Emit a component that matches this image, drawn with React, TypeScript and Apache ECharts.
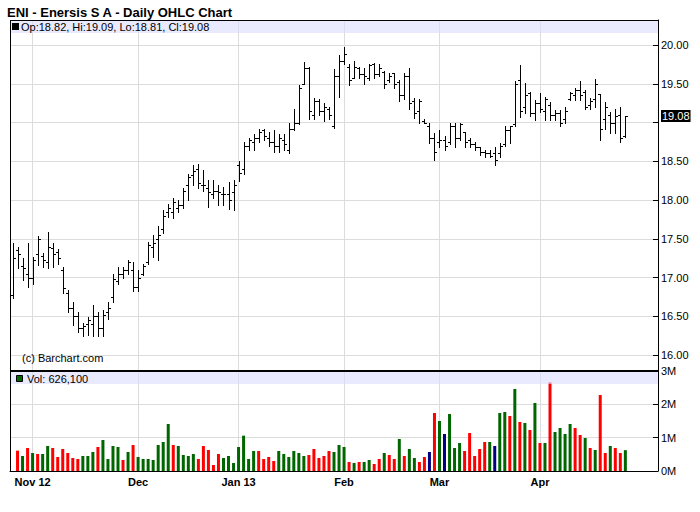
import React, { useEffect, useRef } from "react";
import * as echarts from "echarts";

const FONT = "'Liberation Sans', Arial, Helvetica, sans-serif";

const dates = [
  "10/24/12", "10/25/12", "10/26/12", "10/31/12",
  "11/01/12", "11/02/12", "11/05/12", "11/06/12", "11/07/12", "11/08/12", "11/09/12", "11/12/12", "11/13/12", "11/14/12", "11/15/12", "11/16/12", "11/19/12", "11/20/12", "11/21/12", "11/23/12", "11/26/12", "11/27/12", "11/28/12", "11/29/12", "11/30/12",
  "12/03/12", "12/04/12", "12/05/12", "12/06/12", "12/07/12", "12/10/12", "12/11/12", "12/12/12", "12/13/12", "12/14/12", "12/17/12", "12/18/12", "12/19/12", "12/20/12", "12/21/12", "12/24/12", "12/26/12", "12/27/12", "12/28/12", "12/31/12",
  "01/02/13", "01/03/13", "01/04/13", "01/07/13", "01/08/13", "01/09/13", "01/10/13", "01/11/13", "01/14/13", "01/15/13", "01/16/13", "01/17/13", "01/18/13", "01/22/13", "01/23/13", "01/24/13", "01/25/13", "01/28/13", "01/29/13", "01/30/13", "01/31/13",
  "02/01/13", "02/04/13", "02/05/13", "02/06/13", "02/07/13", "02/08/13", "02/11/13", "02/12/13", "02/13/13", "02/14/13", "02/15/13", "02/19/13", "02/20/13", "02/21/13", "02/22/13", "02/25/13", "02/26/13", "02/27/13", "02/28/13",
  "03/01/13", "03/04/13", "03/05/13", "03/06/13", "03/07/13", "03/08/13", "03/11/13", "03/12/13", "03/13/13", "03/14/13", "03/15/13", "03/18/13", "03/19/13", "03/20/13", "03/21/13", "03/22/13", "03/25/13", "03/26/13", "03/27/13", "03/28/13",
  "04/01/13", "04/02/13", "04/03/13", "04/04/13", "04/05/13", "04/08/13", "04/09/13", "04/10/13", "04/11/13", "04/12/13", "04/15/13", "04/16/13", "04/17/13", "04/18/13", "04/19/13", "04/22/13", "04/23/13", "04/24/13",
];

const padCats = ["pad1", "pad2", "pad3", "pad4", "pad5", "pad6"];

const monthStarts = ["11/01/12", "12/03/12", "01/02/13", "02/01/13", "03/01/13", "04/01/13"];
const monthLabels = ["Nov 12", "Dec", "Jan 13", "Feb", "Mar", "Apr"];

const opens = [
  16.78, 17.35, 17.15, 17.05, 17.0, 17.3, 17.28, 17.2, 17.38, 17.33,
  17.1, 16.8, 16.6, 16.5, 16.35, 16.4, 16.4, 16.5, 16.35, 16.55,
  16.75, 16.95, 17.05, 17.1, 17.1, 16.88, 17.05, 17.2, 17.4, 17.5,
  17.62, 17.85, 17.85, 17.9, 17.93, 18.2, 18.32, 18.4, 18.2, 18.15,
  18.08, 18.12, 18.08, 18.08, 18.1, 18.45, 18.4, 18.7, 18.75, 18.8,
  18.9, 18.8, 18.75, 18.7, 18.78, 18.65, 18.92, 19.0, 19.5, 19.7,
  19.1, 19.28, 19.15, 19.18, 18.95, 19.6, 19.8, 19.72, 19.58, 19.7,
  19.62, 19.58, 19.75, 19.62, 19.65, 19.55, 19.64, 19.52, 19.35, 19.6,
  19.28, 19.15, 19.02, 18.95, 18.8, 18.75, 18.78, 18.75, 18.95, 18.8,
  18.88, 18.78, 18.72, 18.68, 18.62, 18.6, 18.6, 18.6, 18.72, 18.9,
  18.98, 19.55, 19.2, 19.38, 19.12, 19.25, 19.15, 19.22, 19.1, 19.12,
  19.05, 19.3, 19.35, 19.42, 19.4, 19.22, 19.3, 19.37, 19.05, 19.1,
  19.0, 19.1, 18.82,
];
const highs = [
  17.45, 17.4, 17.25, 17.44, 17.27, 17.53, 17.31, 17.59, 17.44, 17.37,
  17.14, 16.84, 16.69, 16.56, 16.41, 16.49, 16.64, 16.56, 16.58, 16.69,
  17.05, 17.14, 17.14, 17.22, 17.2, 17.1, 17.18, 17.46, 17.55, 17.66,
  17.87, 17.95, 18.03, 18.0, 18.15, 18.34, 18.45, 18.47, 18.39, 18.26,
  18.26, 18.19, 18.17, 18.23, 18.26, 18.5, 18.75, 18.8, 18.85, 18.92,
  18.92, 18.88, 18.9, 18.85, 18.85, 19.0, 19.17, 19.49, 19.78, 19.71,
  19.31, 19.3, 19.25, 19.2, 19.69, 19.87, 19.98, 19.75, 19.8, 19.72,
  19.7, 19.75, 19.77, 19.75, 19.66, 19.64, 19.64, 19.55, 19.64, 19.7,
  19.32, 19.3, 19.05, 18.99, 18.86, 18.9, 18.82, 19.0, 19.0, 19.0,
  18.88, 18.8, 18.75, 18.69, 18.65, 18.65, 18.69, 18.73, 18.95, 18.95,
  19.54, 19.74, 19.51, 19.4, 19.29, 19.38, 19.33, 19.27, 19.16, 19.16,
  19.2, 19.39, 19.44, 19.54, 19.42, 19.31, 19.56, 19.37, 19.27, 19.14,
  19.18, 19.2, 19.09,
];
const lows = [
  16.73, 17.12, 16.97, 16.88, 16.92, 17.16, 17.14, 17.12, 17.14, 17.18,
  16.8, 16.56, 16.39, 16.3, 16.24, 16.26, 16.24, 16.24, 16.24, 16.47,
  16.69, 16.92, 17.0, 17.05, 16.82, 16.82, 17.03, 17.18, 17.27, 17.23,
  17.58, 17.78, 17.77, 17.85, 17.9, 18.0, 18.2, 18.15, 18.12, 17.91,
  18.02, 17.94, 17.94, 17.88, 17.87, 18.24, 18.34, 18.65, 18.65, 18.75,
  18.78, 18.7, 18.62, 18.62, 18.65, 18.6, 18.9, 18.98, 19.5, 19.05,
  19.05, 19.1, 19.02, 19.05, 18.93, 19.33, 19.76, 19.49, 19.58, 19.57,
  19.5, 19.55, 19.57, 19.6, 19.45, 19.52, 19.45, 19.28, 19.3, 19.17,
  19.06, 19.0, 18.99, 18.73, 18.52, 18.69, 18.65, 18.72, 18.69, 18.78,
  18.69, 18.69, 18.65, 18.58, 18.56, 18.55, 18.45, 18.56, 18.7, 18.73,
  18.95, 19.07, 19.12, 19.08, 19.03, 19.14, 19.03, 19.03, 19.03, 18.95,
  19.0, 19.29, 19.29, 19.29, 19.18, 19.18, 19.2, 18.77, 18.92, 18.86,
  18.86, 18.75, 18.81,
];
const closes = [
  17.25, 17.3, 17.12, 17.0, 17.22, 17.5, 17.22, 17.4, 17.3, 17.25,
  16.87, 16.6, 16.5, 16.35, 16.38, 16.45, 16.5, 16.35, 16.52, 16.6,
  16.98, 17.05, 17.1, 17.2, 16.88, 17.0, 17.15, 17.42, 17.45, 17.55,
  17.8, 17.9, 17.97, 17.93, 18.12, 18.3, 18.38, 18.22, 18.2, 18.1,
  18.12, 18.1, 18.08, 18.0, 18.2, 18.35, 18.7, 18.78, 18.8, 18.88,
  18.82, 18.75, 18.7, 18.8, 18.72, 18.92, 19.0, 19.45, 19.7, 19.15,
  19.28, 19.15, 19.2, 19.1, 19.6, 19.8, 19.88, 19.55, 19.72, 19.62,
  19.6, 19.74, 19.62, 19.7, 19.5, 19.6, 19.5, 19.35, 19.6, 19.25,
  19.12, 19.28, 19.0, 18.8, 18.62, 18.78, 18.7, 18.95, 18.8, 18.98,
  18.75, 18.72, 18.68, 18.62, 18.6, 18.57, 18.52, 18.7, 18.9, 18.95,
  19.5, 19.15, 19.35, 19.12, 19.25, 19.18, 19.3, 19.1, 19.12, 19.0,
  19.15, 19.38, 19.42, 19.35, 19.2, 19.28, 19.5, 18.92, 19.2, 19.0,
  19.08, 18.8, 19.08,
];

// volume in millions of shares (first day has no volume bar)
const volumes: (number | null)[] = [
  null,
  0.61, 0.45, 0.69, 0.54, 0.51, 0.51, 0.75, 0.69, 0.42, 0.66,
  0.54, 0.39, 0.36, 0.45, 0.45, 0.57, 0.72, 0.93, 0.36, 0.75,
  0.72, 0.33, 0.57, 0.78, 0.42, 0.36, 0.36, 0.33, 0.78, 0.87,
  1.41, 0.78, 0.75, 0.48, 0.45, 0.51, 0.36, 0.75, 0.63, 0.18,
  0.51, 0.39, 0.45, 0.24, 0.72, 1.06, 0.36, 0.6, 0.6, 0.36,
  0.42, 0.3, 0.6, 0.51, 0.42, 0.6, 0.54, 0.45, 0.48, 0.66,
  0.39, 0.45, 0.6, 0.57, 0.78, 0.72, 0.27, 0.24, 0.27, 0.27,
  0.33, 0.21, 0.36, 0.54, 0.48, 0.36, 0.96, 0.45, 0.66, 0.39,
  0.27, 0.42, 0.57, 1.74, 1.5, 1.11, 1.71, 0.69, 0.84, 0.6,
  1.14, 0.45, 0.66, 0.87, 0.87, 0.75, 1.74, 1.77, 1.65, 2.46,
  1.47, 1.44, 1.23, 2.04, 0.84, 0.84, 2.66, 1.17, 1.29, 1.11,
  1.41, 1.29, 1.08, 0.99, 0.69, 0.63, 2.28, 0.54, 0.75, 0.69,
  0.54, 0.6261,
];

// volume bar colour class: u = up, d = down, n = unchanged
const volDir = [
  "",
  "d", "u", "d", "u", "d", "u", "u", "d", "d", "d",
  "d", "d", "d", "u", "u", "u", "d", "u", "u", "u",
  "u", "d", "u", "d", "u", "u", "u", "u", "u", "u",
  "u", "d", "u", "u", "u", "u", "d", "d", "d", "d",
  "d", "u", "u", "u", "u", "u", "u", "u", "d", "d",
  "d", "d", "u", "u", "u", "u", "u", "u", "d", "d",
  "d", "d", "d", "u", "u", "u", "d", "u", "d", "u",
  "u", "d", "d", "u", "d", "d", "u", "d", "u", "u",
  "d", "d", "n", "d", "u", "n", "u", "u", "u", "d",
  "d", "d", "d", "d", "u", "n", "u", "u", "d", "u",
  "d", "u", "d", "u", "d", "u", "d", "u", "u", "u",
  "u", "d", "d", "u", "d", "u", "d", "d", "u", "d",
  "d", "u",
];

const DIR_COLOR: Record<string, string> = { u: "#006600", d: "#ff0000", n: "#000080" };

export default function App() {
  const ref = useRef<HTMLDivElement>(null);

  useEffect(() => {
    if (!ref.current) return;
    const chart = echarts.init(ref.current, undefined, { renderer: "svg" });
    const cats = [...dates, ...padCats];
    const last = dates.length - 1;
    const pMax = 20 + 25 / 77.5;
    const pMin = 16 - 15 / 77.5;
    const lastClose = closes[last];
    const lastVol = volumes[last] as number;
    const legendText = `Op:${opens[last].toFixed(2)}, Hi:${highs[last].toFixed(2)}, Lo:${lows[last].toFixed(2)}, Cl:${lastClose.toFixed(2)}`;
    const volText = `Vol: ${Math.round(lastVol * 1e6).toLocaleString("en-US")}`;
    const grid = "#dcdcdc";
    const vGrid = monthStarts.map((d) => ({ xAxis: d }));

    const option: any = {
      animation: false,
      backgroundColor: "#ffffff",
      textStyle: { fontFamily: FONT },
      grid: [
        { left: 10, top: 20, width: 648, height: 350 },
        { left: 10, top: 371, width: 648, height: 100 },
      ],
      xAxis: [
        {
          type: "category", gridIndex: 0, data: cats, boundaryGap: true,
          axisLine: { show: false }, axisTick: { show: false }, axisLabel: { show: false }, splitLine: { show: false },
        },
        {
          type: "category", gridIndex: 1, data: cats, boundaryGap: true,
          axisLine: { show: true, lineStyle: { color: "#000", width: 1 } },
          axisTick: { show: false },
          axisLabel: {
            interval: (_i: number, v: string) => monthStarts.indexOf(v) >= 0,
            formatter: (v: string) => { const k = monthStarts.indexOf(v); return k >= 0 ? monthLabels[k] : ""; },
            fontWeight: "bold", fontSize: 11, color: "#000", margin: 5, fontFamily: FONT,
          },
          splitLine: { show: false },
        },
      ],
      yAxis: [
        {
          type: "value", gridIndex: 0, position: "right", min: pMin, max: pMax, splitNumber: 9,
          axisLine: { show: true, lineStyle: { color: "#000" } },
          axisTick: { show: true, inside: true, length: 5, lineStyle: { color: "#000" } },
          axisLabel: {
            showMinLabel: false, showMaxLabel: false, fontSize: 11, color: "#000", margin: 3, fontFamily: FONT,
            // the last-price box covers the tick label nearest to it
            formatter: (v: number) => (Math.abs(v - lastClose) < 0.15 ? "" : v.toFixed(2)),
          },
          splitLine: { show: true, lineStyle: { color: grid, width: 1 } },
        },
        {
          type: "value", gridIndex: 1, position: "right", min: 0, max: 3, interval: 1,
          axisLine: { show: true, lineStyle: { color: "#000" } },
          axisTick: { show: true, inside: true, length: 5, lineStyle: { color: "#000" } },
          axisLabel: { fontSize: 11, color: "#000", margin: 3, fontFamily: FONT, formatter: (v: number) => `${v}M` },
          splitLine: { show: true, lineStyle: { color: grid, width: 1 } },
        },
      ],
      series: [
        {
          type: "custom",
          xAxisIndex: 0, yAxisIndex: 0, z: 5,
          data: dates.map((_d, i) => [i, opens[i], highs[i], lows[i], closes[i]]),
          encode: { x: 0, y: [1, 2, 3, 4] },
          renderItem: (_p: any, api: any) => {
            const idx = api.value(0);
            const c = api.coord([idx, api.value(1)]);
            const n = Math.round(c[0]);
            const xv = n + 0.5;
            const yo = Math.round(c[1]) + 0.5;
            const yh = Math.round(api.coord([idx, api.value(2)])[1]);
            const yl = Math.round(api.coord([idx, api.value(3)])[1]) + 1;
            const yc = Math.round(api.coord([idx, api.value(4)])[1]) + 0.5;
            const style = { stroke: "#000", lineWidth: 1 };
            return {
              type: "group",
              children: [
                { type: "line", shape: { x1: xv, y1: yh, x2: xv, y2: yl }, style },
                { type: "line", shape: { x1: n - 2, y1: yo, x2: n + 1, y2: yo }, style },
                { type: "line", shape: { x1: n, y1: yc, x2: n + 3, y2: yc }, style },
              ],
            };
          },
          markLine: {
            z: 1, silent: true, symbol: ["none", "none"], animation: false,
            label: { show: false },
            lineStyle: { color: grid, width: 1, type: "solid" },
            data: vGrid,
          },
        },
        {
          type: "bar",
          xAxisIndex: 1, yAxisIndex: 1, barWidth: 3,
          data: volumes.map((v, i) => (v == null ? "-" : { value: v, itemStyle: { color: DIR_COLOR[volDir[i]] } })),
          markLine: {
            z: 1, silent: true, symbol: ["none", "none"], animation: false,
            label: { show: false },
            lineStyle: { color: grid, width: 1, type: "solid" },
            data: vGrid,
          },
        },
      ],
      graphic: [
        { id: "title", type: "text", x: 7, y: 12, z: 100, style: { text: "ENI - Enersis S A - Daily OHLC Chart", fill: "#000", fontFamily: FONT, fontSize: 13, fontWeight: "bold", verticalAlign: "middle" } },
        { id: "band1", type: "rect", z: 100, shape: { x: 11, y: 21, width: 647, height: 12 }, style: { fill: "rgba(220,220,255,0.6)" } },
        { id: "sq1", type: "rect", z: 101, shape: { x: 12, y: 23, width: 7, height: 7 }, style: { fill: "#000" } },
        { id: "leg1", type: "text", x: 21, y: 27, z: 101, style: { text: legendText, fill: "#000", fontFamily: FONT, fontSize: 11, verticalAlign: "middle" } },
        { id: "band2", type: "rect", z: 100, shape: { x: 11, y: 372, width: 647, height: 12 }, style: { fill: "rgba(220,220,255,0.6)" } },
        { id: "sq2", type: "rect", z: 101, shape: { x: 16.5, y: 375.5, width: 6, height: 6 }, style: { fill: "#006600", stroke: "#000", lineWidth: 1 } },
        { id: "leg2", type: "text", x: 27, y: 378.5, z: 101, style: { text: volText, fill: "#000", fontFamily: FONT, fontSize: 11, verticalAlign: "middle" } },
        { id: "copy", type: "text", x: 22, y: 357.5, z: 101, style: { text: "(c) Barchart.com", fill: "#000", fontFamily: FONT, fontSize: 11, verticalAlign: "middle" } },
        { id: "fl", type: "line", z: 110, shape: { x1: 10.5, y1: 20, x2: 10.5, y2: 471 }, style: { stroke: "#000", lineWidth: 1 } },
        { id: "ft", type: "line", z: 110, shape: { x1: 10, y1: 20.5, x2: 659, y2: 20.5 }, style: { stroke: "#000", lineWidth: 1 } },
        { id: "fs", type: "rect", z: 110, shape: { x: 10, y: 370, width: 649, height: 2 }, style: { fill: "#000" } },
      ],
    };
    chart.setOption(option);

    // last-price box on the price axis, placed through the axis scale
    const yLast = chart.convertToPixel({ yAxisIndex: 0 }, lastClose) as number;
    const xAxisEdge = chart.convertToPixel({ gridIndex: 0 }, [0, lastClose]) as number[];
    void xAxisEdge;
    chart.setOption({
      graphic: [
        {
          id: "lastBox", type: "text", x: 661, y: Math.round(yLast), z: 120,
          style: {
            text: lastClose.toFixed(2), fill: "#fff", backgroundColor: "#000",
            fontFamily: FONT, fontSize: 11, verticalAlign: "middle", padding: [1, 1, 0, 1],
          },
        },
      ],
    });
    return () => chart.dispose();
  }, []);

  return (
    <div
      ref={ref}
      style={{ position: "fixed", left: 0, top: 0, width: 700, height: 512, background: "#fff" }}
    />
  );
}
